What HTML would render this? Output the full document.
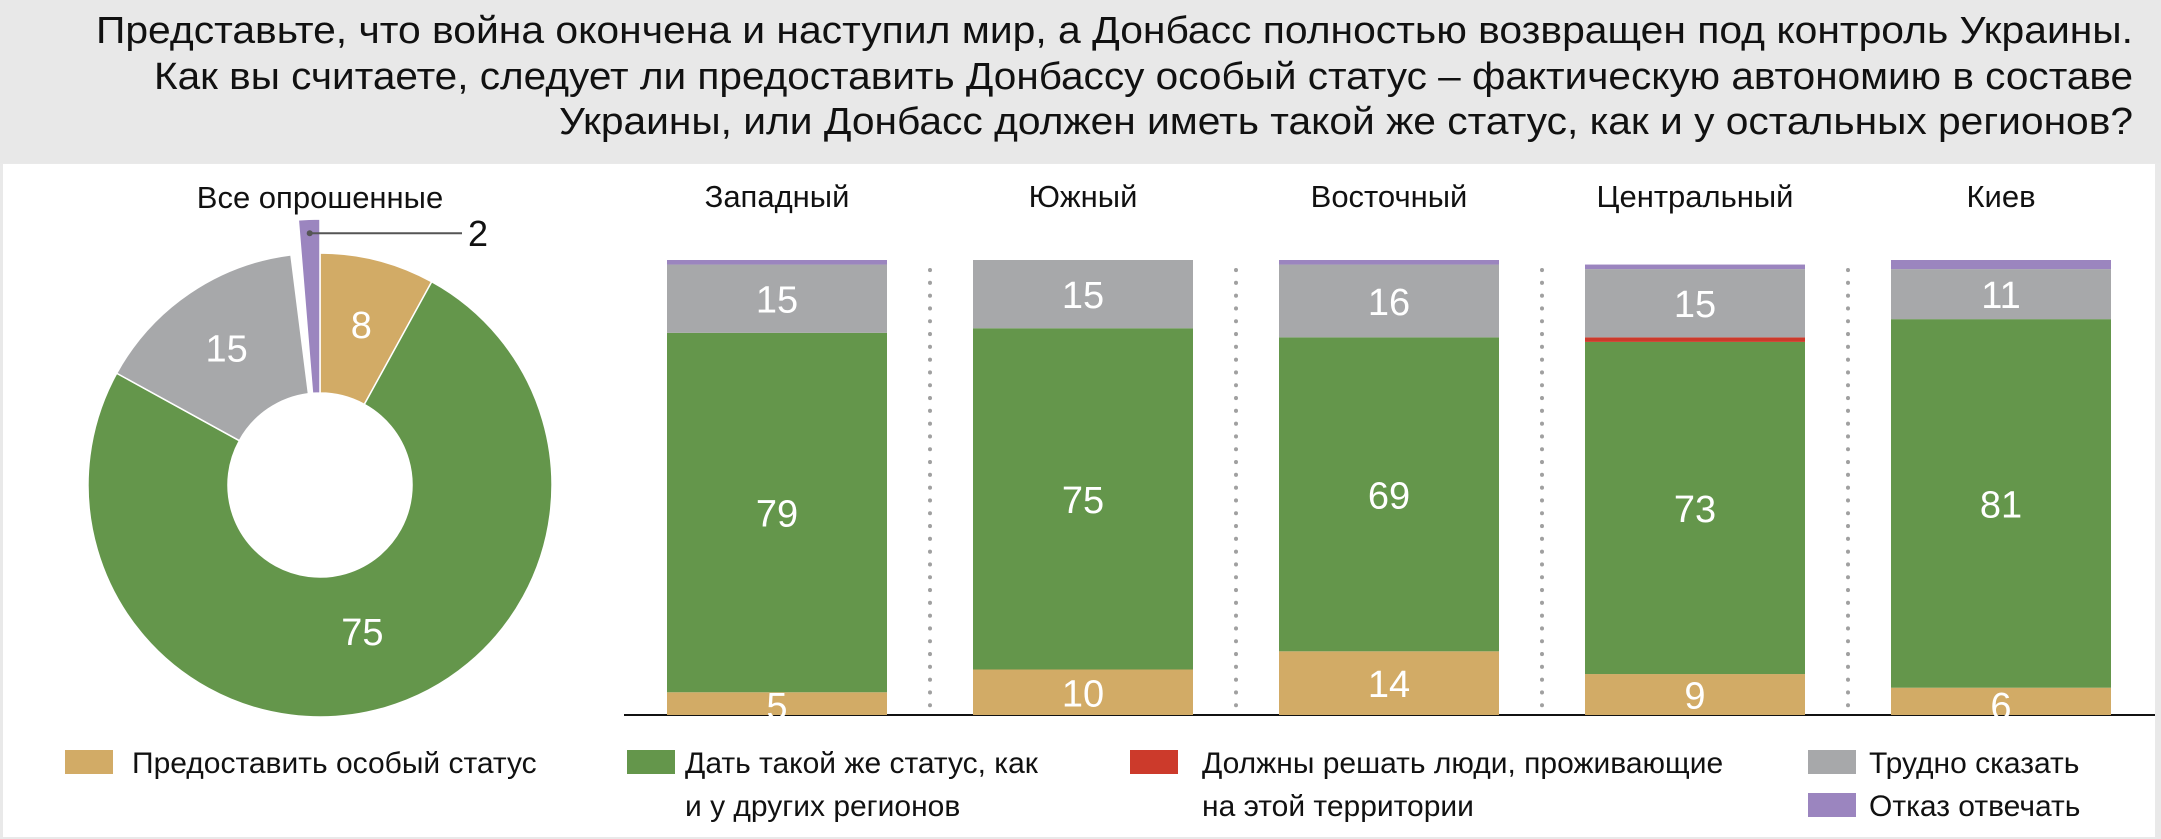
<!DOCTYPE html>
<html><head><meta charset="utf-8">
<style>
html,body{margin:0;padding:0;background:#e9e9e9;}
svg{display:block;font-family:"Liberation Sans","DejaVu Sans",sans-serif;}
</style></head>
<body>
<svg id="chart" width="2161" height="839" viewBox="0 0 2161 839" xmlns="http://www.w3.org/2000/svg">
<rect x="0" y="0" width="2161" height="163" fill="#e8e8e8"/>
<rect x="3" y="164" width="2152" height="673" fill="#ffffff"/>
<g font-size="38" fill="#111" text-anchor="end">
<text x="2133" y="43" textLength="2037" lengthAdjust="spacingAndGlyphs">Представьте, что война окончена и наступил мир, а Донбасс полностью возвращен под контроль Украины.</text>
<text x="2133" y="89" textLength="1979" lengthAdjust="spacingAndGlyphs">Как вы считаете, следует ли предоставить Донбассу особый статус – фактическую автономию в составе</text>
<text x="2133" y="134" textLength="1574" lengthAdjust="spacingAndGlyphs">Украины, или Донбасс должен иметь такой же статус, как и у остальных регионов?</text>
</g>
<g id="donut"></g>
<g id="bars"></g>
<g id="legend"></g>
</svg>
<script>
const NS="http://www.w3.org/2000/svg";
const seriesNames=["Предоставить особый статус","Дать такой же статус, как и у других регионов","Должны решать люди, проживающие на этой территории","Трудно сказать","Отказ отвечать"];
const seriesColors=["#d2ab66","#64964b","#cc3a2b","#a7a8aa","#9b85bf"];
const donutValues=[8,75,0,15,2];
const regions=["Западный","Южный","Восточный","Центральный","Киев"];
const specialStatus=[5,10,14,9,6];
const sameStatus=[79,75,69,73,81];
const localDecide=[0,0,0,1,0];
const hardToSay=[15,15,16,15,11];
const refused=[1,0,1,1,2];

function mk(tag,attrs,parent){const e=document.createElementNS(NS,tag);for(const k in attrs)e.setAttribute(k,attrs[k]);parent.appendChild(e);return e;}

// donut
const dg=document.getElementById('donut');
const cx=320,cy=485,R=232,r0=92;
const total=donutValues.reduce((a,b)=>a+b,0);
function pt(rad,a){return [cx+rad*Math.sin(a),cy-rad*Math.cos(a)];}
let acc=0;
const donutKeys=['special','same','local','hard','refused'];
donutValues.forEach((v,i)=>{
  if(v<=0)return;
  let a0=acc/total*2*Math.PI,a1=(acc+v)/total*2*Math.PI;acc+=v;
  let Ro=R,ri=r0;
  if(i===4){Ro=266;a0=a0+(a1-a0)*0.35;}
  const p1=pt(Ro,a0),p2=pt(Ro,a1),p3=pt(ri,a1),p4=pt(ri,a0);
  const large=(a1-a0)>Math.PI?1:0;
  const d=`M${p1[0]},${p1[1]} A${Ro},${Ro} 0 ${large} 1 ${p2[0]},${p2[1]} L${p3[0]},${p3[1]} A${ri},${ri} 0 ${large} 0 ${p4[0]},${p4[1]} Z`;
  const s=mk('path',{d:d,fill:seriesColors[i],stroke:'#fff','stroke-width':1.5},dg);
  
  
  if(i!==4){
    const am=(a0+a1)/2;const lr=i===1?152:166;
    const lp=pt(lr,am);
    const t=mk('text',{x:lp[0],y:lp[1]+14,'text-anchor':'middle','font-size':38,fill:'#fff'},dg);
    t.textContent=v;
    
    
  }else{
    const am=(a0+a1)/2;const lp=pt(252,am);
    const c=mk('circle',{cx:lp[0],cy:lp[1],r:3,fill:'#555'},dg);
    
    
    const l=mk('line',{x1:lp[0],y1:lp[1],x2:462,y2:lp[1],stroke:'#555','stroke-width':2},dg);
    
    
    const t=mk('text',{x:468,y:lp[1]+13,'font-size':36,fill:'#111'},dg);
    t.textContent=v;
    
    
  }
});
const dt=mk('text',{x:cx,y:208,'text-anchor':'middle','font-size':31,fill:'#111'},dg);
dt.textContent='Все опрошенные';



// bars
const bg=document.getElementById('bars');
const base=715,unit=4.55,bw=220,x0=667,step=306;
function yScale(v){return base-v*unit;}
const ax=mk('line',{x1:624,y1:base,x2:2155,y2:base,stroke:'#111','stroke-width':2},bg);


const series=[specialStatus,sameStatus,localDecide,hardToSay,refused];
regions.forEach((reg,j)=>{
  const x=x0+j*step;
  const cl=mk('text',{x:x+bw/2,y:207,'text-anchor':'middle','font-size':31,fill:'#111'},bg);
  cl.textContent=reg;
  
  
  let cum=0;
  series.forEach((arr,i)=>{
    const v=arr[j];if(v<=0)return;
    const yTop=yScale(cum+v),yBot=yScale(cum);cum+=v;
    const rc=mk('rect',{x:x,y:yTop,width:bw,height:yBot-yTop,fill:seriesColors[i]},bg);
    
    
    if(v>=3){
      let ty=(yTop+yBot)/2+14;
      if(i===0&&v<7)ty=yBot+4;
      const t=mk('text',{x:x+bw/2,y:ty,'text-anchor':'middle','font-size':38,fill:'#fff'},bg);
      t.textContent=v;
      
      
    }
  });
  if(j<regions.length-1){
    const sx=x+bw+(step-bw)/2;
    const dl=mk('line',{x1:sx,y1:270,x2:sx,y2:712,stroke:'#a0a0a0','stroke-width':4,'stroke-linecap':'round','stroke-dasharray':'0.1 12.7'},bg);
    
    
  }
});

// legend
const lg=document.getElementById('legend');
const legItems=[
 {sx:65,tx:132,y:762,lines:["Предоставить особый статус"],c:0},
 {sx:627,tx:685,y:762,lines:["Дать такой же статус, как","и у других регионов"],c:1},
 {sx:1130,tx:1202,y:762,lines:["Должны решать люди, проживающие","на этой территории"],c:2},
 {sx:1808,tx:1869,y:762,lines:["Трудно сказать"],c:3},
 {sx:1808,tx:1869,y:805,lines:["Отказ отвечать"],c:4}
];
legItems.forEach(it=>{
  const g=mk('g',{},lg);
  
  
  const sw=mk('rect',{x:it.sx,y:it.y-12,width:48,height:24,fill:seriesColors[it.c]},g);
  
  
  it.lines.forEach((ln,k)=>{
    const t=mk('text',{x:it.tx,y:it.y+11+k*43,'font-size':30,fill:'#111'},g);
    t.textContent=ln;
    
    
  });
});
</script>
</body></html>
